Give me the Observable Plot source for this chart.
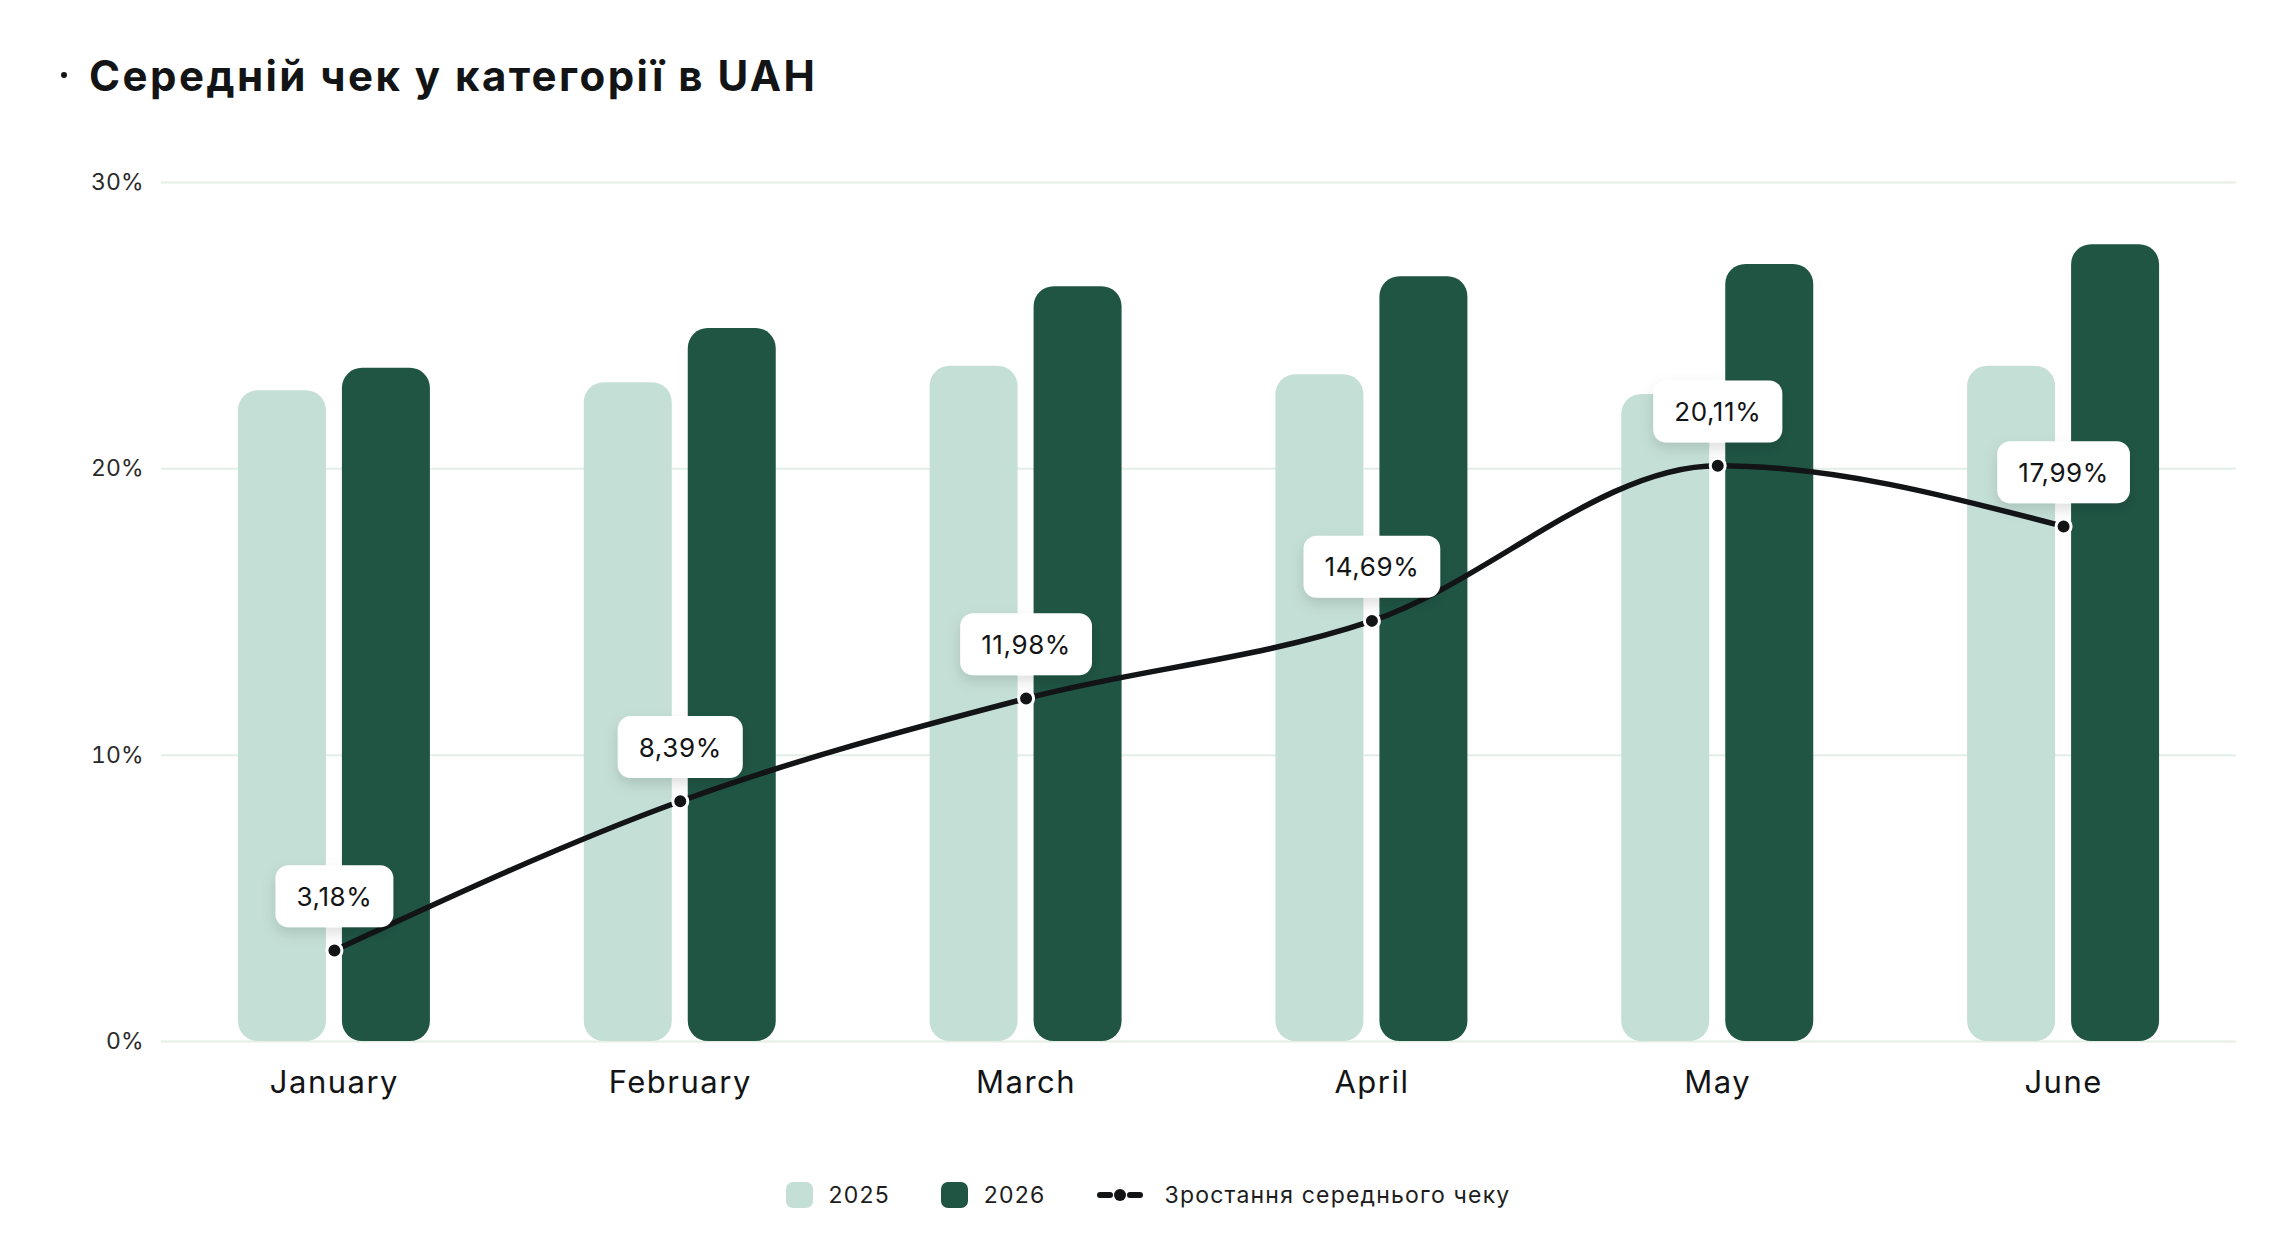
<!DOCTYPE html>
<html>
<head>
<meta charset="utf-8">
<script src="https://cdn.jsdelivr.net/npm/d3@7"></script>
<script src="https://cdn.jsdelivr.net/npm/@observablehq/plot@0.6"></script>
<style>
  html, body { margin: 0; padding: 0; background: #fff; }
  body { width: 2296px; height: 1246px; overflow: hidden; font-family: Inter, "Open Sans", sans-serif; color: #121416; }
  #title { position: relative; height: 150px; display: flex; align-items: center; padding-left: 89px; box-sizing: border-box;
           font-size: 42px; font-weight: 700; letter-spacing: 2.45px; color: #121416; }
  #title .bullet { position: absolute; left: 61px; top: 72px; width: 6px; height: 6px; border-radius: 50%; background: #121416; }
  #chart svg { display: block; }
  #chart [aria-label^="x-axis"] text { font-size: 31px; fill: #121416; letter-spacing: 1.5px; }
  #chart [aria-label^="y-axis"] text { font-size: 23px; fill: #2a2a2a; }
  #legend { margin-top: 30px; height: 50px; display: flex; justify-content: center; align-items: center;
            font-size: 23px; color: #1d1d1d; letter-spacing: 1.2px; padding-left: 0px; }
  #legend .item { display: flex; align-items: center; }
  #legend .item + .item { margin-left: 51px; }
  #legend .sw { width: 27px; height: 26px; border-radius: 7px; margin-right: 16px; }
  #legend svg { margin-right: 22px; }
</style>
</head>
<body>
<div id="title"><span class="bullet"></span><span id="titleText"></span></div>
<div id="chart"></div>
<div id="legend"></div>
<script>
// ---- data ----
const titleText = "Середній чек у категорії в UAH";
const months = ["January", "February", "March", "April", "May", "June"];
const values2025 = [22.73, 23.01, 23.58, 23.29, 22.60, 23.58];
const values2026 = [23.51, 24.90, 26.36, 26.71, 27.14, 27.83];
const growth = [3.18, 8.39, 11.98, 14.69, 20.11, 17.99];
const growthLabels = ["3,18%", "8,39%", "11,98%", "14,69%", "20,11%", "17,99%"];
const yTicks = [0, 10, 20, 30];
const yTickLabels = ["0%", "10%", "20%", "30%"];
const seriesNames = ["2025", "2026"];
const lineName = "Зростання середнього чеку";

// ---- styles ----
const colorLight = "#c4dfd6";
const colorDark = "#205544";
const ink = "#121416";
const gridColor = "#e3eee7";

document.getElementById("titleText").textContent = titleText;

const W = 2296, H = 990, ML = 161, MR = 60, MT = 32, MB = 99;
const band = (W - ML - MR) / months.length;
const barW = 88, gap = 16;
const outer = band / 2 - gap / 2 - barW;

const rows = months.map((m, i) => ({
  month: m, v25: values2025[i], v26: values2026[i], g: growth[i], label: growthLabels[i]
}));

const chart = Plot.plot({
  width: W,
  height: H,
  marginLeft: ML,
  marginRight: MR,
  marginTop: MT,
  marginBottom: MB,
  style: { fontFamily: "Inter, 'Open Sans', sans-serif", background: "#fff", overflow: "visible" },
  x: { domain: months, padding: 0, round: false, label: null, tickSize: 0, tickPadding: 29 },
  y: { domain: [0, 30], ticks: yTicks, tickFormat: d => yTickLabels[yTicks.indexOf(d)], label: null, tickSize: 0, tickPadding: 18 },
  marks: [
    Plot.ruleY(yTicks, { stroke: gridColor, strokeWidth: 2 }),
    Plot.barY(rows, { x: "month", y: "v25", fill: colorLight, insetLeft: outer, insetRight: band - outer - barW, rx: 20, ry: 20 }),
    Plot.barY(rows, { x: "month", y: "v26", fill: colorDark, insetLeft: band / 2 + gap / 2, insetRight: outer, rx: 20, ry: 20 }),
    Plot.line(rows, { x: "month", y: "g", stroke: ink, strokeWidth: 5.5, curve: "monotone-x" }),
    Plot.dot(rows, { x: "month", y: "g", r: 7.5, fill: ink, stroke: "#fff", strokeWidth: 3 }),
    Plot.text(rows, { x: "month", y: "g", text: "label", dy: -53, fontSize: 26, fill: ink, ariaDescription: "growth-labels" })
  ]
});
document.getElementById("chart").appendChild(chart);

// ---- white rounded label boxes behind the growth labels ----
(function addBoxes() {
  const svg = chart.tagName.toLowerCase() === "svg" ? chart : chart.querySelector("svg");
  const ns = "http://www.w3.org/2000/svg";
  const defs = document.createElementNS(ns, "defs");
  const filter = document.createElementNS(ns, "filter");
  filter.setAttribute("id", "boxShadow");
  filter.setAttribute("x", "-30%"); filter.setAttribute("y", "-40%");
  filter.setAttribute("width", "160%"); filter.setAttribute("height", "200%");
  const fe = document.createElementNS(ns, "feDropShadow");
  fe.setAttribute("dx", "0"); fe.setAttribute("dy", "6");
  fe.setAttribute("stdDeviation", "7");
  fe.setAttribute("flood-color", "#000"); fe.setAttribute("flood-opacity", "0.13");
  filter.appendChild(fe); defs.appendChild(filter); svg.insertBefore(defs, svg.firstChild);

  const textGroup = svg.querySelector('g[aria-description="growth-labels"]') || [...svg.querySelectorAll('g[aria-label="text"]')].pop();
  textGroup.setAttribute("letter-spacing", "0.6");
  const svgRect = svg.getBoundingClientRect();
  const boxes = document.createElementNS(ns, "g");
  boxes.setAttribute("aria-label", "label boxes");
  textGroup.querySelectorAll("text").forEach(t => {
    const r = t.getBoundingClientRect();
    const cx = r.left - svgRect.left + r.width / 2;
    const cy = r.top - svgRect.top + r.height / 2;
    const w = r.width + 42, h = 62;
    const rect = document.createElementNS(ns, "rect");
    rect.setAttribute("x", cx - w / 2);
    rect.setAttribute("y", cy - h / 2);
    rect.setAttribute("width", w);
    rect.setAttribute("height", h);
    rect.setAttribute("rx", 13);
    rect.setAttribute("fill", "#fff");
    rect.setAttribute("filter", "url(#boxShadow)");
    boxes.appendChild(rect);
  });
  textGroup.parentNode.insertBefore(boxes, textGroup);
})();

// ---- legend ----
const legend = document.getElementById("legend");
[[seriesNames[0], colorLight], [seriesNames[1], colorDark]].forEach(([name, c]) => {
  const it = document.createElement("div");
  it.className = "item";
  it.innerHTML = `<span class="sw" style="background:${c}"></span><span>${name}</span>`;
  legend.appendChild(it);
});
const li = document.createElement("div");
li.className = "item";
li.innerHTML = `<svg width="46" height="16" viewBox="0 0 46 16">
  <line x1="3" y1="8" x2="13" y2="8" stroke="${ink}" stroke-width="6" stroke-linecap="round"/>
  <line x1="33" y1="8" x2="43" y2="8" stroke="${ink}" stroke-width="6" stroke-linecap="round"/>
  <circle cx="23" cy="8" r="6" fill="${ink}"/></svg><span>${lineName}</span>`;
legend.appendChild(li);
</script>
</body>
</html>
